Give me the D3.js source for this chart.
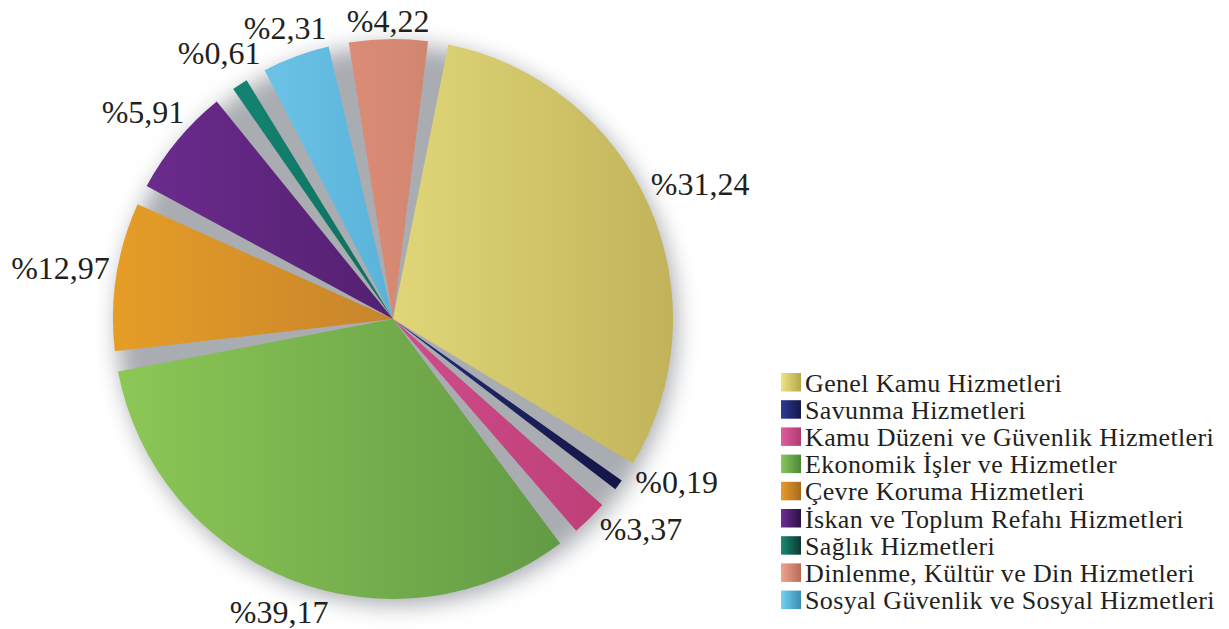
<!DOCTYPE html>
<html>
<head>
<meta charset="utf-8">
<script src="https://cdn.jsdelivr.net/npm/d3@7"></script>
<style>
  body { margin: 0; background: #fff; }
  text { font-family: "Liberation Serif", "Times New Roman", serif; fill: #231f20; }
</style>
</head>
<body>
<svg id="chart" width="1229" height="629"></svg>
<script>
// legend order
var categories = [
  'Genel Kamu Hizmetleri',
  'Savunma Hizmetleri',
  'Kamu Düzeni ve Güvenlik Hizmetleri',
  'Ekonomik İşler ve Hizmetler',
  'Çevre Koruma Hizmetleri',
  'İskan ve Toplum Refahı Hizmetleri',
  'Sağlık Hizmetleri',
  'Dinlenme, Kültür ve Din Hizmetleri',
  'Sosyal Güvenlik ve Sosyal Hizmetleri'
];
// printed percentages
var percentages = [31.24, 0.19, 3.37, 39.17, 12.97, 5.91, 0.61, 4.22, 2.31];
// the drawing is not to scale: slice sizes (degrees) as measured on the picture
var drawnDegrees = [109.6, 2.2, 7.5, 115.8, 30.8, 22.6, 3.3, 16.3, 14.0];
// clockwise order of the slices in the pie (Sosyal comes before Dinlenme)
var pieOrder = [0, 1, 2, 3, 4, 5, 6, 8, 7];

var sliceColors = [
  ['#e0d678', '#c2b35a'],
  ['#242c74', '#141546'],
  ['#d04c8a', '#bd3f78'],
  ['#8cc756', '#639a45'],
  ['#e69d27', '#c7842c'],
  ['#6b2b8d', '#532070'],
  ['#158472', '#0e6c5c'],
  ['#dc8c77', '#d18670'],
  ['#6cc3e6', '#5ab2da']
];
var swatchColors = [
  ['#eee582', '#b6a64c'],
  ['#2c3b93', '#15184a'],
  ['#e45ba0', '#ad3c72'],
  ['#8ac75c', '#4d8839'],
  ['#e89b2a', '#a66a20'],
  ['#6f2f95', '#2b1041'],
  ['#188b75', '#0b3a30'],
  ['#f1a38b', '#b66b5b'],
  ['#72d1f1', '#398db0']
];

var cx = 393, cy = 319, radius = 280;
var pad = 4.2 * Math.PI / 180;
var startDeg = 9.3;
var deg = Math.PI / 180;

var svg = d3.select('#chart');
var defs = svg.append('defs');

var shadow = defs.append('filter').attr('id', 'shadow')
  .attr('x', '-20%').attr('y', '-20%').attr('width', '140%').attr('height', '140%');
shadow.append('feGaussianBlur').attr('stdDeviation', 11);

function addGradient(id, c) {
  var g = defs.append('linearGradient').attr('id', id)
    .attr('x1', 0).attr('y1', 0).attr('x2', 1).attr('y2', 0);
  g.append('stop').attr('offset', 0).attr('stop-color', c[0]);
  g.append('stop').attr('offset', 1).attr('stop-color', c[1]);
}
sliceColors.forEach(function (c, i) { addGradient('slice' + i, c); });
swatchColors.forEach(function (c, i) { addGradient('swatch' + i, c); });

var slices = pieOrder.map(function (i) {
  return { index: i, name: categories[i], pct: percentages[i], size: drawnDegrees[i] };
});

var pie = d3.pie()
  .sort(null)
  .value(function (d) { return d.size; })
  .padAngle(pad)
  .startAngle(startDeg * deg)
  .endAngle(startDeg * deg + 2 * Math.PI);

var arc = d3.arc().innerRadius(0).outerRadius(radius);
var arcs = pie(slices);

var g = svg.append('g').attr('transform', 'translate(' + cx + ',' + cy + ')');

// soft grey shadow under the whole disc, shows through the gaps
g.append('circle')
  .attr('cx', 4).attr('cy', 6)
  .attr('r', radius)
  .attr('fill', '#a9acb1')
  .attr('filter', 'url(#shadow)');

g.selectAll('path.slice')
  .data(arcs)
  .enter().append('path')
  .attr('class', 'slice')
  .attr('d', arc)
  .attr('fill', function (d) { return 'url(#slice' + d.data.index + ')'; });

// labels
var nudge = { 1: -6.4, 2: -5.2 };
var fmt = function (v) { return '%' + v.toFixed(2).replace('.', ','); };

var labels = g.selectAll('text.pct')
  .data(arcs)
  .enter().append('text')
  .attr('class', 'pct')
  .attr('text-anchor', 'middle')
  .style('font-size', '32px')
  .text(function (d) { return fmt(d.data.pct); });

labels.each(function (d) {
  var box = this.getBBox();
  var a = (d.startAngle + d.endAngle) / 2 + (nudge[d.data.index] || 0) * deg;
  var hw = box.width / 2, hh = 11;
  var r = radius + 6 + hw * Math.abs(Math.sin(a)) + hh * Math.abs(Math.cos(a));
  var x = r * Math.sin(a), y = -r * Math.cos(a);
  d3.select(this).attr('x', x).attr('y', y + 11);
});

// legend
var legend = svg.append('g').attr('transform', 'translate(781,373)');
var rows = legend.selectAll('g.row')
  .data(categories)
  .enter().append('g')
  .attr('class', 'row')
  .attr('transform', function (d, i) { return 'translate(0,' + (i * 27.2) + ')'; });

rows.append('rect')
  .attr('width', 20).attr('height', 18.5)
  .attr('fill', function (d, i) { return 'url(#swatch' + i + ')'; });

rows.append('text')
  .attr('x', 24).attr('y', 18.5)
  .style('font-size', '26px')
  .style('letter-spacing', '0.35px')
  .text(function (d) { return d; });
</script>
</body>
</html>
